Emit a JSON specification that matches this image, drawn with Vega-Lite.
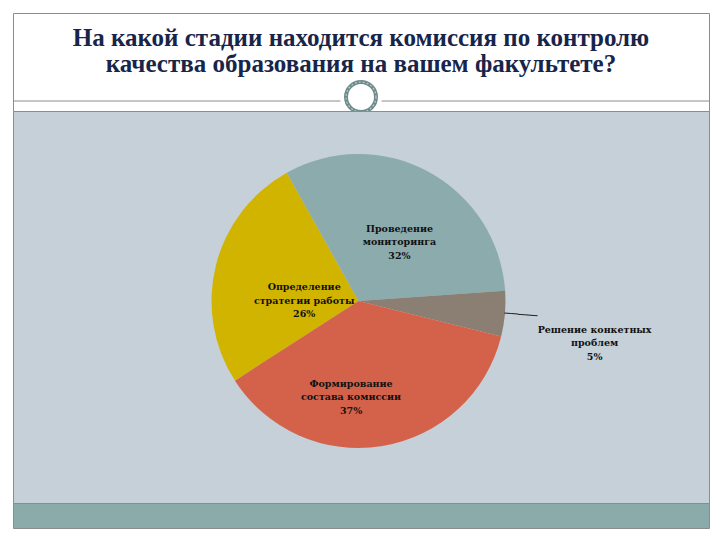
{
  "$schema": "https://vega.github.io/schema/vega-lite/v6.json",
  "background": "white",
  "padding": {"left": 12, "top": 12, "right": 12, "bottom": 13},
  "spacing": 0,
  "bounds": "flush",
  "config": {"concat": {"spacing": 0}, "view": {"stroke": "#8C8C8C"}},
  "vconcat": [
    {
      "width": 696,
      "height": 98,
      "view": {"fill": "white", "stroke": "#8C8C8C"},
      "data": {"values": [{"title": "На какой стадии находится комиссия по контролю\nкачества образования на вашем факультете?"}]},
      "layer": [
        {
          "mark": {"type": "rule", "color": "#8C8C8C", "strokeWidth": 1},
          "encoding": {"y": {"datum": 0.102, "type": "quantitative", "scale": {"domain": [0, 1]}, "axis": null}}
        },
        {
          "mark": {"type": "text", "font": "Liberation Serif", "fontSize": 25, "fontWeight": "bold", "color": "#17254A", "lineBreak": "\n", "lineHeight": 26, "baseline": "alphabetic", "align": "center"},
          "encoding": {
            "text": {"field": "title"},
            "x": {"datum": 0.5, "type": "quantitative", "scale": {"domain": [0, 1]}, "axis": null},
            "y": {"datum": 0.668, "type": "quantitative", "scale": {"domain": [0, 1]}, "axis": null}
          }
        },
        {
          "mark": {"type": "point", "shape": "circle", "filled": true, "color": "white", "size": 1764, "opacity": 1},
          "encoding": {
            "x": {"datum": 0.5, "type": "quantitative", "scale": {"domain": [0, 1]}, "axis": null},
            "y": {"datum": 0.143, "type": "quantitative", "scale": {"domain": [0, 1]}, "axis": null}
          }
        },
        {
          "mark": {"type": "point", "shape": "circle", "filled": false, "fill": "white", "stroke": "#6E8B8B", "strokeWidth": 4, "size": 900, "opacity": 1},
          "encoding": {
            "x": {"datum": 0.5, "type": "quantitative", "scale": {"domain": [0, 1]}, "axis": null},
            "y": {"datum": 0.143, "type": "quantitative", "scale": {"domain": [0, 1]}, "axis": null}
          }
        },
        {
          "mark": {"type": "point", "shape": "circle", "filled": false, "stroke": "#B9CACA", "strokeWidth": 1.2, "strokeDash": [2, 2], "size": 900, "opacity": 1},
          "encoding": {
            "x": {"datum": 0.5, "type": "quantitative", "scale": {"domain": [0, 1]}, "axis": null},
            "y": {"datum": 0.143, "type": "quantitative", "scale": {"domain": [0, 1]}, "axis": null}
          }
        }
      ]
    },
    {
      "width": 696,
      "height": 392,
      "view": {"fill": "#C5D0D8", "stroke": "#8C8C8C"},
      "data": {"values": [
        {"category": "Определение стратегии работы", "value": 26, "label": "Определение\nстратегии работы\n26%"},
        {"category": "Проведение мониторинга", "value": 32, "label": "Проведение\nмониторинга\n32%"},
        {"category": "Решение конкетных проблем", "value": 5, "label": "Решение конкетных\nпроблем\n5%"},
        {"category": "Формирование состава комиссии", "value": 37, "label": "Формирование\nсостава комиссии\n37%"}
      ]},
      "encoding": {
        "theta": {"field": "value", "type": "quantitative", "stack": true, "scale": {"range": [4.140, 10.423]}},
        "order": {"field": "category", "sort": "ascending"},
        "x": {"datum": 0.4964, "type": "quantitative", "scale": {"domain": [0, 1]}, "axis": null},
        "y": {"datum": 0.5153, "type": "quantitative", "scale": {"domain": [0, 1]}, "axis": null}
      },
      "layer": [
        {
          "mark": {"type": "arc", "outerRadius": 147, "stroke": null},
          "encoding": {
            "color": {"field": "category", "type": "nominal", "legend": null,
              "scale": {"domain": ["Определение стратегии работы", "Проведение мониторинга", "Решение конкетных проблем", "Формирование состава комиссии"],
                        "range": ["#D1B400", "#8BABAD", "#8B7E73", "#D4624A"]}}
          }
        },
        {
          "mark": {"type": "text", "radius": 82, "dx": 2, "font": "DejaVu Serif", "fontSize": 9.5, "fontWeight": "bold", "color": "#111111", "lineBreak": "\n", "lineHeight": 13.5, "align": "center", "baseline": "middle"},
          "encoding": {"text": {"condition": {"test": "datum.category === 'Проведение мониторинга'", "field": "label"}, "value": ""}}
        },
        {
          "mark": {"type": "text", "radius": 56, "font": "DejaVu Serif", "fontSize": 9.5, "fontWeight": "bold", "color": "#111111", "lineBreak": "\n", "lineHeight": 13.5, "align": "center", "baseline": "middle"},
          "encoding": {"text": {"condition": {"test": "datum.category === 'Определение стратегии работы'", "field": "label"}, "value": ""}}
        },
        {
          "mark": {"type": "text", "radius": 83, "dx": -21, "dy": 1, "font": "DejaVu Serif", "fontSize": 9.5, "fontWeight": "bold", "color": "#111111", "lineBreak": "\n", "lineHeight": 13.5, "align": "center", "baseline": "middle"},
          "encoding": {"text": {"condition": {"test": "datum.category === 'Формирование состава комиссии'", "field": "label"}, "value": ""}}
        },
        {
          "mark": {"type": "text", "radius": 237, "dy": 8, "font": "DejaVu Serif", "fontSize": 9.5, "fontWeight": "bold", "color": "#111111", "lineBreak": "\n", "lineHeight": 13.5, "align": "center", "baseline": "middle"},
          "encoding": {"text": {"condition": {"test": "datum.category === 'Решение конкетных проблем'", "field": "label"}, "value": ""}}
        },
        {
          "mark": {"type": "text", "radius": 163, "angle": 5, "font": "DejaVu Sans Mono", "fontSize": 11, "color": "#2A2A2A", "align": "center", "baseline": "middle"},
          "encoding": {"text": {"condition": {"test": "datum.category === 'Решение конкетных проблем'", "value": "─────"}, "value": ""}}
        }
      ]
    },
    {
      "width": 696,
      "height": 25,
      "view": {"fill": "#8AABAA", "stroke": "#8C8C8C"},
      "data": {"values": [{}]},
      "mark": {"type": "point", "opacity": 0}
    }
  ]
}
